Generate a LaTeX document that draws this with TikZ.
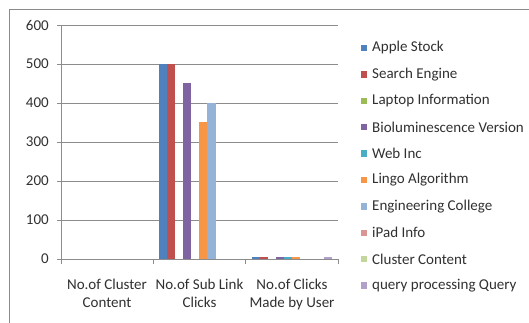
\documentclass[tikz,border=0pt]{standalone}
\usepackage{fontspec}
\setmainfont{Carlito}
\definecolor{cA}{HTML}{4F81BD}
\definecolor{cB}{HTML}{C0504D}
\definecolor{cC}{HTML}{9BBB59}
\definecolor{cD}{HTML}{8064A2}
\definecolor{cE}{HTML}{4BACC6}
\definecolor{cF}{HTML}{F79646}
\definecolor{cG}{HTML}{95B3D7}
\definecolor{cH}{HTML}{DA9694}
\definecolor{cI}{HTML}{C3D69B}
\definecolor{cJ}{HTML}{B1A0C7}
\definecolor{gridc}{HTML}{8C8C8C}
\definecolor{framec}{HTML}{8A8A8A}
\definecolor{txt}{HTML}{303030}
\begin{document}
\begin{tikzpicture}[x=1pt,y=-1pt,
  lbl/.style={font=\fontsize{15}{17.5}\selectfont,text=txt,inner sep=0pt},
  ylbl/.style={lbl,anchor=east},
  catlbl/.style={lbl,align=center,anchor=north},
  leg/.style={lbl,anchor=west},
  grid/.style={draw=gridc,line width=0.8pt}]
\useasboundingbox (0,0) rectangle (529,323);
% frame
\draw[framec,line width=0.8pt] (9,323) -- (9,9) -- (529,9);
% gridlines and y labels
\foreach \v in {0,100,...,600}{
  \pgfmathsetmacro{\yy}{259-0.39*\v}
  \draw[grid] (57,\yy) -- (338,\yy);
  \node[ylbl] at (49,\yy) {\v};
}
\draw[grid] (61,25) -- (61,259);
\foreach \xx in {61,153.3,245.7,338}{
  \draw[grid] (\xx,259) -- (\xx,264);
}
% bars: width 8, category start + 6
\def\bw{8.03}
\newcommand{\onebar}[4]{% catstart, index, value, colour
  \pgfmathsetmacro{\xa}{#1+6+#2*\bw}
  \pgfmathsetmacro{\xb}{\xa+\bw}
  \pgfmathsetmacro{\yt}{259-0.39*#3}
  \fill[#4] (\xa,259) rectangle (\xb,\yt);
}
\onebar{153.3}{0}{500}{cA}
\onebar{153.3}{1}{500}{cB}
\onebar{153.3}{3}{450}{cD}
\onebar{153.3}{5}{350}{cF}
\onebar{153.3}{6}{400}{cG}
\onebar{245.7}{0}{4}{cA}
\onebar{245.7}{1}{4}{cB}
\onebar{245.7}{3}{4}{cD}
\onebar{245.7}{4}{4}{cE}
\onebar{245.7}{5}{4}{cF}
\onebar{245.7}{9}{4}{cJ}
% category labels
\node[catlbl] (c1) at (107,279) {No.of Cluster\\Content};
\node[catlbl] (c2) at (199.5,279) {No.of Sub Link\\Clicks};
\node[catlbl] (c3) at (292,279) {No.of Clicks\\Made by User};
% legend
\foreach \c/\t [count=\i from 0] in {cA/Apple Stock,cB/Search Engine,cC/Laptop Information,cD/Bioluminescence Version,cE/Web Inc,cF/Lingo Algorithm,cG/Engineering College,cH/iPad Info,cI/Cluster Content,cJ/query processing Query}{
  \pgfmathsetmacro{\ly}{48+26.4*\i}
  \fill[\c] (360.5,\ly-3.2) rectangle (367,\ly+3.2);
  \node[leg] (l\i) at (372,\ly) {\t};
}
\end{tikzpicture}
\end{document}
